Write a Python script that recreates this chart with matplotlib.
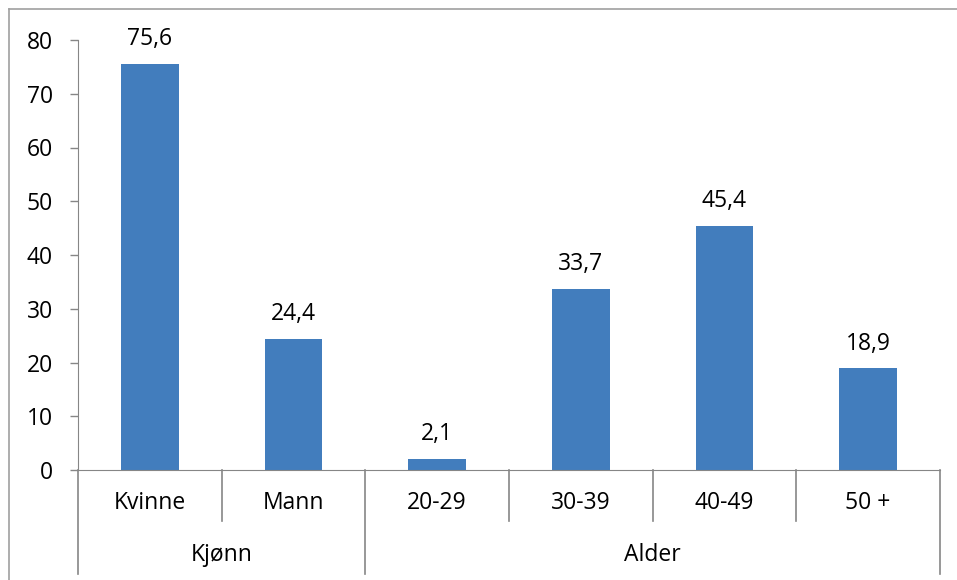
import matplotlib
matplotlib.use('Agg')
import matplotlib.pyplot as plt
from matplotlib.lines import Line2D
import matplotlib.transforms as mtransforms

plt.rcParams['font.family'] = ['Open Sans', 'DejaVu Sans']

# data
kategorier = ['Kvinne', 'Mann', '20-29', '30-39', '40-49', '50 +']
verdier = [75.6, 24.4, 2.1, 33.7, 45.4, 18.9]
grupper = ['Kjønn', 'Alder']
gruppe_storrelse = [2, 4]
y_ticks = [0, 10, 20, 30, 40, 50, 60, 70, 80]

bar_color = '#427DBD'
axis_color = '#868686'
fs = 16.5

fig = plt.figure(figsize=(9.57, 5.8), dpi=100)
ax = fig.add_axes([78 / 957, 110 / 580, (940 - 78) / 957, 430 / 580])

x = list(range(len(kategorier)))
bars = ax.bar(x, verdier, width=0.4, color=bar_color, zorder=2)

for xi, v in zip(x, verdier):
    ax.annotate(f'{v:.1f}'.replace('.', ','), (xi, v), xytext=(0, 9),
                textcoords='offset points', ha='center', va='bottom',
                fontsize=fs, color='black')

ax.set_xlim(-0.5, len(kategorier) - 0.5)
ax.set_ylim(0, 80)
ax.set_yticks(y_ticks)
ax.set_yticklabels([str(t) for t in y_ticks], fontsize=fs)
ax.tick_params(axis='y', length=6, width=1, color=axis_color, pad=12)
ax.set_xticks([])

for side in ['top', 'right']:
    ax.spines[side].set_visible(False)
ax.spines['left'].set_color(axis_color)
ax.spines['bottom'].set_color(axis_color)

trans = mtransforms.blended_transform_factory(ax.transData, ax.transAxes)

# kategorietiketter
for xi, navn in zip(x, kategorier):
    ax.text(xi, -0.077, navn, transform=trans, ha='center', va='center', fontsize=fs)

# skillelinjer og gruppetiketter
grenser = [-0.5]
for n in gruppe_storrelse:
    grenser.append(grenser[-1] + n)

for i in range(len(kategorier) + 1):
    pos = i - 0.5
    bunn = -0.242 if pos in grenser else -0.119
    ax.add_line(Line2D([pos, pos], [0, bunn], transform=trans, color=axis_color,
                       lw=1.2, clip_on=False))

for g, a, b in zip(grupper, grenser[:-1], grenser[1:]):
    ax.text((a + b) / 2, -0.198, g, transform=trans, ha='center', va='center', fontsize=fs)

# ramme rundt diagrammet (topp og venstre synlig)
fig.add_artist(Line2D([9 / 957, 1], [1 - 9 / 580, 1 - 9 / 580], color='#a0a0a0', lw=1.2))
fig.add_artist(Line2D([9 / 957, 9 / 957], [0, 1 - 9 / 580], color='#a0a0a0', lw=1.2))

fig.savefig('out.png', dpi=100)
